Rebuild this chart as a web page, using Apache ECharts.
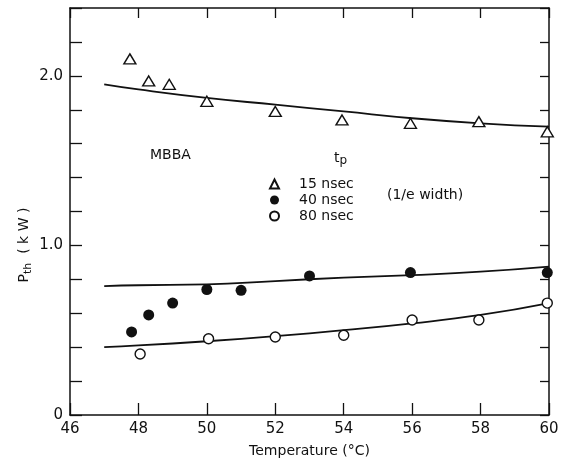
<!DOCTYPE html>
<html>
<head>
<meta charset="utf-8">
<script src="https://cdn.jsdelivr.net/npm/echarts@6/dist/echarts.min.js"></script>
<style>
html,body{margin:0;padding:0;background:#fff;}
#chart{width:564px;height:458px;}
</style>
</head>
<body>
<div id="chart"></div>
<script>
// ---- data ----
var temp15 = [47.75, 48.3, 48.9, 50.0, 52.0, 53.95, 55.95, 57.95, 59.95];
var p15    = [2.10, 1.97, 1.95, 1.85, 1.79, 1.74, 1.72, 1.73, 1.67];
var temp40 = [47.8, 48.3, 49.0, 50.0, 51.0, 53.0, 55.95, 59.95];
var p40    = [0.49, 0.59, 0.66, 0.74, 0.735, 0.82, 0.84, 0.84];
var temp80 = [48.05, 50.05, 52.0, 54.0, 56.0, 57.95, 59.95];
var p80    = [0.36, 0.45, 0.46, 0.47, 0.56, 0.56, 0.66];
var fitT   = [47, 48, 50, 52, 54, 56, 58, 60];
var fit15  = [1.95, 1.92, 1.87, 1.83, 1.79, 1.75, 1.72, 1.70];
var fit40  = [0.76, 0.765, 0.77, 0.79, 0.81, 0.825, 0.845, 0.875];
var fit80  = [0.40, 0.41, 0.435, 0.465, 0.50, 0.54, 0.59, 0.66];
var seriesNames = ['15 nsec', '40 nsec', '80 nsec'];
var yLabelValues = { '0': '0', '1': '1.0', '2': '2.0' };

function zip(a, b) { return a.map(function (v, i) { return [v, b[i]]; }); }

var INK = '#111';
var FONT = 'DejaVu Sans';

var chart = echarts.init(document.getElementById('chart'), null, { renderer: 'canvas' });

var axisLine = { show: true, onZero: false, lineStyle: { color: INK, width: 1.5 } };

var option = {
  backgroundColor: '#fff',
  animation: false,
  grid: { left: 70, right: 15, top: 8, bottom: 43, containLabel: false, outerBoundsMode: 'none' },
  xAxis: [
    {
      type: 'value', min: 46, max: 60, interval: 2, position: 'bottom',
      axisLine: axisLine,
      axisTick: { show: true, inside: true, length: 12, lineStyle: { color: INK, width: 1.3 } },
      axisLabel: { color: INK, fontFamily: FONT, fontSize: 15, margin: 7 },
      splitLine: { show: false },
      name: 'Temperature (°C)', nameLocation: 'middle', nameGap: 29,
      nameTextStyle: { color: INK, fontFamily: FONT, fontSize: 14 }
    },
    {
      type: 'value', min: 46, max: 60, interval: 2, position: 'top',
      axisLine: axisLine,
      axisTick: { show: true, inside: true, length: 10, lineStyle: { color: INK, width: 1.3 } },
      axisLabel: { show: false },
      splitLine: { show: false }
    }
  ],
  yAxis: [
    {
      type: 'value', min: 0, max: 2.4, interval: 0.2, position: 'left',
      axisLine: axisLine,
      axisTick: { show: true, inside: true, length: 12, lineStyle: { color: INK, width: 1.3 } },
      axisLabel: {
        color: INK, fontFamily: FONT, fontSize: 15, margin: 7,
        formatter: function (v) {
          var k = String(Math.round(v * 10) / 10);
          return yLabelValues.hasOwnProperty(k) ? yLabelValues[k] : '';
        }
      },
      splitLine: { show: false }
    },
    {
      type: 'value', min: 0, max: 2.4, interval: 0.2, position: 'right',
      axisLine: axisLine,
      axisTick: { show: true, inside: true, length: 9, lineStyle: { color: INK, width: 1.3 } },
      axisLabel: { show: false },
      splitLine: { show: false }
    }
  ],
  legend: {
    orient: 'vertical', left: 264, top: 171,
    itemWidth: 9, itemHeight: 9, itemGap: 0,
    data: seriesNames,
    textStyle: { color: INK, fontFamily: FONT, fontSize: 14, lineHeight: 16, padding: [0, 0, 0, 15] }
  },
  series: [
    { name: 'fit15', type: 'line', data: zip(fitT, fit15), smooth: true, symbol: 'none',
      lineStyle: { color: INK, width: 1.8 }, z: 1, silent: true },
    { name: 'fit40', type: 'line', data: zip(fitT, fit40), smooth: true, symbol: 'none',
      lineStyle: { color: INK, width: 1.8 }, z: 1, silent: true },
    { name: 'fit80', type: 'line', data: zip(fitT, fit80), smooth: true, symbol: 'none',
      lineStyle: { color: INK, width: 1.8 }, z: 1, silent: true },
    { name: seriesNames[0], type: 'scatter', data: zip(temp15, p15), symbol: 'triangle', symbolSize: [12, 10],
      itemStyle: { color: '#fff', borderColor: INK, borderWidth: 1.4, opacity: 1 }, z: 3, clip: false },
    { name: seriesNames[1], type: 'scatter', data: zip(temp40, p40), symbol: 'circle', symbolSize: 11,
      itemStyle: { color: INK, borderColor: INK, borderWidth: 0, opacity: 1 }, z: 3, clip: false },
    { name: seriesNames[2], type: 'scatter', data: zip(temp80, p80), symbol: 'circle', symbolSize: 10,
      itemStyle: { color: '#fff', borderColor: INK, borderWidth: 1.4, opacity: 1 }, z: 3, clip: false }
  ],
  graphic: [
    { type: 'text', x: 24, y: 245, rotation: Math.PI / 2,
      style: {
        text: '{p|P}{s|th}{p|  ( k W )}', align: 'center', verticalAlign: 'middle',
        rich: {
          p: { fontFamily: FONT, fontSize: 14, fill: INK, lineHeight: 20, verticalAlign: 'middle' },
          s: { fontFamily: FONT, fontSize: 11, fill: INK, lineHeight: 20, verticalAlign: 'bottom', padding: [6, 0, 0, 0] }
        }
      } },
    { type: 'text', x: 150, y: 155,
      style: { text: 'MBBA', fontFamily: FONT, fontSize: 14, fill: INK, verticalAlign: 'middle' } },
    { type: 'text', x: 334, y: 158,
      style: {
        text: '{t|t}{s|p}', verticalAlign: 'middle',
        rich: {
          t: { fontFamily: FONT, fontSize: 14, fill: INK, lineHeight: 18, verticalAlign: 'middle' },
          s: { fontFamily: FONT, fontSize: 12, fill: INK, lineHeight: 18, verticalAlign: 'bottom', padding: [5, 0, 0, 0] }
        }
      } },
    { type: 'text', x: 387, y: 195,
      style: { text: '(1/e width)', fontFamily: FONT, fontSize: 14, fill: INK, verticalAlign: 'middle' } }
  ]
};

chart.setOption(option);
</script>
</body>
</html>
